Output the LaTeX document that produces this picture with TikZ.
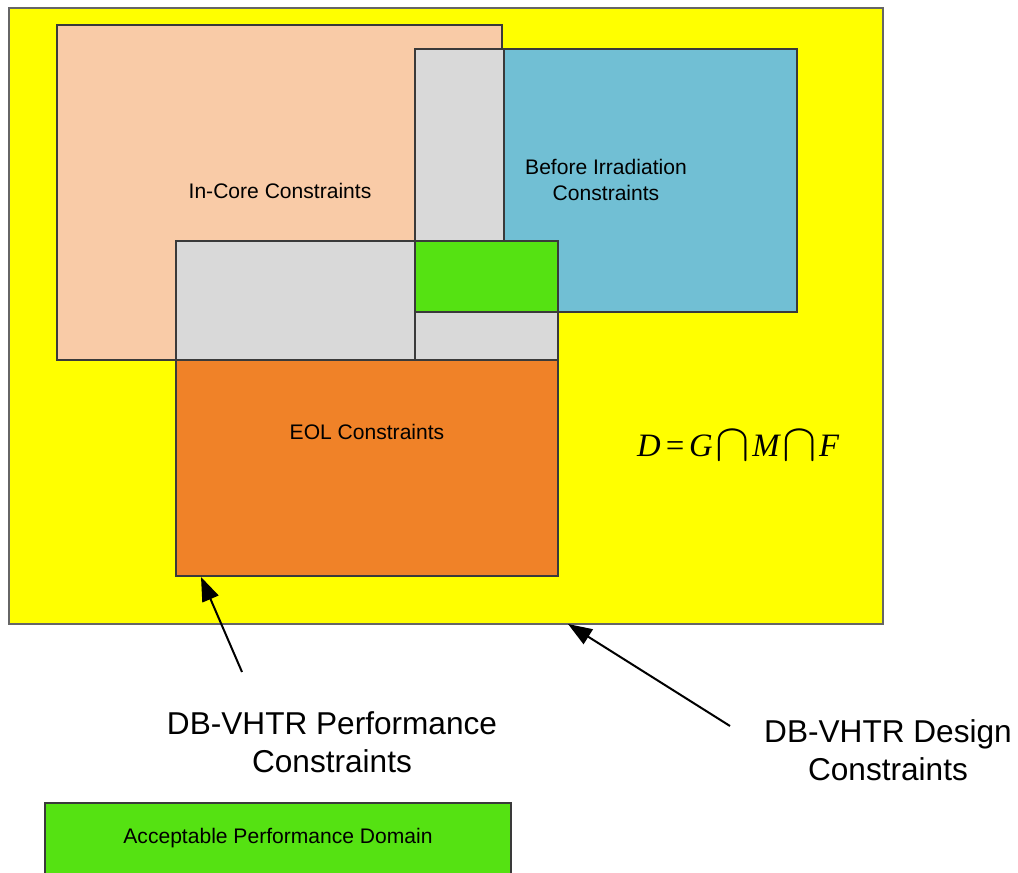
\documentclass[tikz,border=0pt]{standalone}
\usepackage{fontspec}
\setmainfont{Liberation Sans}
\newfontfamily\timesf{Liberation Serif}
\usetikzlibrary{arrows.meta}
\definecolor{bgyellow}{HTML}{FFFF00}
\definecolor{peach}{HTML}{F9CBA7}
\definecolor{skyblue}{HTML}{71BFD4}
\definecolor{lightgray}{HTML}{D9D9D9}
\definecolor{okgreen}{HTML}{55E212}
\definecolor{eolorange}{HTML}{F08228}
\definecolor{edge}{HTML}{3A3A3A}
\tikzset{
  region/.style={draw=edge, line width=0.9pt},
  lbl/.style={font=\fontsize{15.8}{19}\selectfont, align=center, inner sep=0pt},
  biglbl/.style={font=\fontsize{23.7}{28.5}\selectfont, align=center, inner sep=0pt},
  pointer/.style={line width=1.5pt, -{Triangle[length=18pt,width=13pt]}}
}
% enlarged intersection sign for the domain formula
\newcommand{\capop}{\kern0.08em\raisebox{-0.25ex}{\scalebox{1.55}[1.6]{$\cap$}}\kern0.08em}
\begin{document}
\begin{tikzpicture}[x=0.75pt, y=-0.75pt]
\useasboundingbox (0,0) rectangle (1018,873);
\begin{scope}
\clip (0,0) rectangle (1018,873);
% design space
\draw[region, fill=bgyellow, draw=black!60] (9,8) rectangle (883,624);
\node[coordinate] (dsbot) at (568,624) {};
% in-core constraints
\draw[region, fill=peach] (57,25) rectangle (502,360);
% before irradiation constraints
\draw[region, fill=skyblue] (504,49) rectangle (797,312);
\draw[region, fill=lightgray] (415,49) rectangle (504,241);
% overlap strips
\draw[region, fill=lightgray] (176,241) rectangle (415,360);
\draw[region, fill=lightgray] (415,312) rectangle (558,360);
% acceptable domain
\draw[region, fill=okgreen] (415,241) rectangle (558,312);
% EOL constraints
\draw[region, fill=eolorange] (176,360) rectangle (558,576);
\node[coordinate] (eolcorner) at (201,577) {};
% legend box
\draw[region, fill=okgreen] (45,803) rectangle (511,880);
\end{scope}

\node[lbl] (incore) at (280,191) {In-Core Constraints};
\node[lbl] (bir) at (606,180) {Before Irradiation\\Constraints};
\node[lbl] (eol) at (367,432) {EOL Constraints};
\node[inner sep=0pt, font=\fontsize{24.5}{30}\selectfont] (formula) at (738,446)
  {\timesf\itshape D\kern0.1em=\kern0.1em G\capop M\capop F};
\node[biglbl] (perf) at (332,742) {DB-VHTR Performance\\Constraints};
\node[biglbl] (design) at (888,750) {DB-VHTR Design\\Constraints};
\node[lbl] (legend) at (278,838) {Acceptable Performance Domain};

\coordinate (perftail) at (242,672);
\coordinate (designtail) at (730,726);
\draw[pointer] (perftail) -- (eolcorner);
\draw[pointer] (designtail) -- (dsbot);
\end{tikzpicture}
\end{document}
